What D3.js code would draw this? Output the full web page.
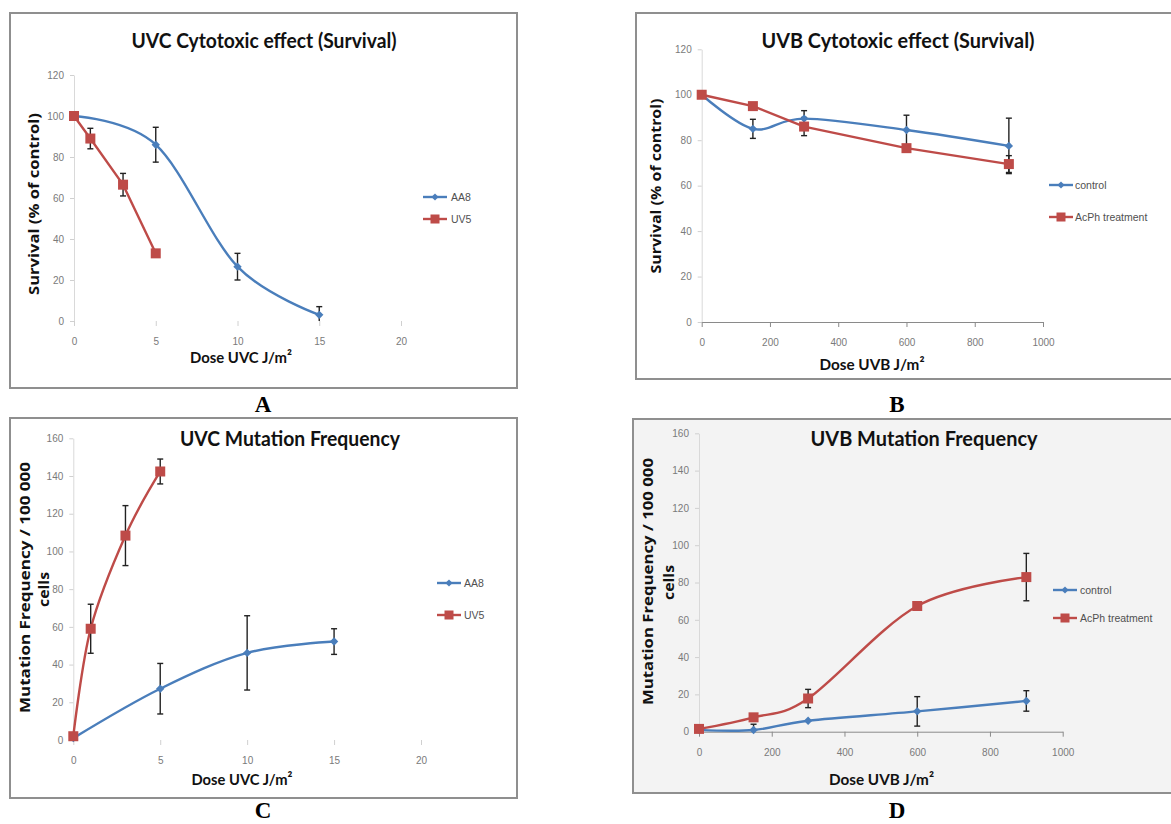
<!DOCTYPE html>
<html><head><meta charset="utf-8">
<script src="https://cdn.jsdelivr.net/npm/d3@7"></script>
<style>body{margin:0;background:#fff}</style>
</head><body><svg id="c" width="1171" height="824"></svg>
<script>
// ---------- DATA ----------
const uvcTicks = [0, 5, 10, 15, 20];
const uvbTicks = [0, 200, 400, 600, 800, 1000];
const survTicks = [0, 20, 40, 60, 80, 100, 120];
const mutTicks = [0, 20, 40, 60, 80, 100, 120, 140, 160];

const uvcDoseAA8 = [0, 5, 10, 15];
const uvcDoseUV5 = [0, 1, 3, 5];
const uvbDose = [0, 150, 300, 600, 900];

// A: UVC survival
const survAA8 = [100, 86, 26.5, 3];
const survAA8Err = [0, 8.5, 6.5, 4];
const survUV5 = [100, 89, 66.5, 33];
const survUV5Err = [0, 5, 5.5, 0];
// B: UVB survival
const survControl = [100, 85, 89.5, 84.5, 77.5];
const survControlErr = [0, 4.2, 3.5, 6.5, 12.2];
const survAcPh = [100, 95, 86, 76.5, 69.5];
const survAcPhErr = [0, 0, 4, 0, 3.7];
// C: UVC mutation frequency
const mutAA8 = [1, 27.2, 46.2, 52.2];
const mutAA8Err = [0, 13.4, 19.7, 6.8];
const mutUV5 = [2, 59, 108.4, 142.4];
const mutUV5Err = [0, 13, 15.9, 6.6];
// D: UVB mutation frequency
const mutControl = [1, 0.9, 5.9, 10.9, 16.5];
const mutControlErr = [0, 3.1, 0, 7.9, 5.5];
const mutAcPh = [1.5, 7.7, 17.8, 67.4, 82.9];
const mutAcPhErr = [0, 0, 4.9, 2.3, 12.7];

const titles = ["UVC Cytotoxic effect (Survival)", "UVB Cytotoxic effect (Survival)", "UVC Mutation Frequency", "UVB Mutation Frequency"];
const letters = ["A", "B", "C", "D"];
const survLabel = "Survival (% of control)";
const mutLabel = ["Mutation Frequency / 100 000", "cells"];
const uvcXLabel = "Dose UVC J/m²";
const uvbXLabel = "Dose UVB J/m²";
const uvcSeries = ["AA8", "UV5"];
const uvbSeries = ["control", "AcPh treatment"];

// ---------- STYLE ----------
const BLUE = "#4a7ebb", RED = "#be4b48";
const svg = d3.select("#c");

function panel(cfg) {
  const g = svg.append("g");
  g.append("rect").attr("x", cfg.box[0]).attr("y", cfg.box[1])
    .attr("width", cfg.box[2] - cfg.box[0]).attr("height", cfg.box[3] - cfg.box[1])
    .attr("fill", cfg.fill || "#fff").attr("stroke", "#8f8f8f").attr("stroke-width", 2);

  const x = d3.scaleLinear().domain(cfg.xDomain).range(cfg.xRange);
  const y = d3.scaleLinear().domain(cfg.yDomain).range(cfg.yRange);

  // y axis
  const yg = g.append("g").attr("transform", `translate(${cfg.xRange[0]},0)`)
    .call(d3.axisLeft(y).tickValues(cfg.yTicks).tickFormat(d3.format("d")).tickSize(4).tickSizeOuter(0).tickPadding(6));
  yg.attr("font-family", "'Liberation Sans', sans-serif").attr("font-size", 10);
  yg.select(".domain").attr("stroke", "#d9d9d9");
  yg.selectAll(".tick line").attr("stroke", "#d0d0d0");
  yg.selectAll(".tick text").attr("fill", "#7a7a7a");

  // x axis
  const xg = g.append("g").attr("transform", `translate(0,${cfg.yRange[0]})`)
    .call(d3.axisBottom(x).tickValues(cfg.xTicks).tickFormat(d3.format("d")).tickSize(5).tickSizeOuter(0).tickPadding(12));
  xg.attr("font-family", "'Liberation Sans', sans-serif").attr("font-size", 10);
  xg.select(".domain").attr("stroke", cfg.xAxisLine ? "#8a8a8a" : "none");
  xg.selectAll(".tick line").attr("stroke", cfg.xAxisLine ? "#8a8a8a" : "#d0d0d0");
  xg.selectAll(".tick text").attr("fill", "#7a7a7a");

  // title
  g.append("text").attr("x", cfg.title.x).attr("y", cfg.title.y)
    .attr("text-anchor", "middle").attr("font-family", "Lato, sans-serif")
    .attr("font-weight", "bold").attr("font-size", 20).attr("fill", "#111")
    .attr("textLength", cfg.title.w).attr("lengthAdjust", "spacingAndGlyphs")
    .text(cfg.title.text);

  // y label(s)
  cfg.yLabels.forEach(l => {
    g.append("text").attr("transform", `translate(${l.x},${l.cy}) rotate(-90)`)
      .attr("text-anchor", "middle").attr("dominant-baseline", "central")
      .attr("font-family", "'Open Sans', sans-serif").attr("font-weight", "bold")
      .attr("font-size", 15).attr("fill", "#111")
      .attr("textLength", l.len).attr("lengthAdjust", "spacingAndGlyphs")
      .text(l.text);
  });

  // x label
  g.append("text").attr("x", cfg.xLabel.x).attr("y", cfg.xLabel.y)
    .attr("text-anchor", "middle").attr("font-family", "Lato, sans-serif")
    .attr("font-weight", "bold").attr("font-size", 16).attr("fill", "#111")
    .attr("textLength", cfg.xLabel.w).attr("lengthAdjust", "spacingAndGlyphs")
    .text(cfg.xLabel.text);

  // series
  const shapes = [];
  cfg.series.forEach(s => {
    const pts = s.xs.map((xv, i) => ({ x: xv, y: s.ys[i], e: s.errs[i] }));
    const line = d3.line().x(d => x(d.x)).y(d => y(d.y)).curve(s.curve);
    g.append("path").attr("d", line(pts)).attr("fill", "none")
      .attr("stroke", s.color).attr("stroke-width", 2.4).attr("stroke-linejoin", "round");
    shapes.push({ s, pts });
  });
  // error bars
  shapes.forEach(({ pts }) => {
    pts.filter(d => d.e > 0).forEach(d => {
      const lo = Math.max(cfg.yDomain[0], d.y - d.e), hi = d.y + d.e;
      const cx = x(d.x);
      g.append("line").attr("x1", cx).attr("x2", cx).attr("y1", y(lo)).attr("y2", y(hi))
        .attr("stroke", "#222").attr("stroke-width", 1.4);
      g.append("line").attr("x1", cx - 3).attr("x2", cx + 3).attr("y1", y(hi)).attr("y2", y(hi))
        .attr("stroke", "#222").attr("stroke-width", 1.4);
      if (d.y - d.e >= cfg.yDomain[0])
        g.append("line").attr("x1", cx - 3).attr("x2", cx + 3).attr("y1", y(lo)).attr("y2", y(lo))
          .attr("stroke", "#222").attr("stroke-width", 1.4);
    });
  });
  // markers
  function marker(sel, kind, color) {
    if (kind === "diamond") sel.append("path").attr("d", "M0,-4.2L4.2,0L0,4.2L-4.2,0Z").attr("fill", color);
    else sel.append("rect").attr("x", -5).attr("y", -5).attr("width", 10).attr("height", 10).attr("fill", color);
  }
  shapes.forEach(({ s, pts }) => {
    pts.forEach(d => {
      const m = g.append("g").attr("transform", `translate(${x(d.x)},${y(d.y)})`);
      marker(m, s.marker, s.color);
    });
  });

  // legend
  cfg.series.forEach((s, i) => {
    const ly = cfg.legend.ys[i];
    g.append("line").attr("x1", cfg.legend.x1).attr("x2", cfg.legend.x2).attr("y1", ly).attr("y2", ly)
      .attr("stroke", s.color).attr("stroke-width", 2.4);
    const m = g.append("g").attr("transform", `translate(${(cfg.legend.x1 + cfg.legend.x2) / 2},${ly}) scale(${s.marker === "diamond" ? 0.85 : 0.9})`);
    marker(m, s.marker, s.color);
    g.append("text").attr("x", cfg.legend.tx).attr("y", ly).attr("dominant-baseline", "central")
      .attr("font-family", "'Liberation Sans', sans-serif").attr("font-size", 10.5).attr("fill", "#505050")
      .text(s.name);
  });

  // panel letter
  g.append("text").attr("x", cfg.letter.x).attr("y", cfg.letter.y).attr("text-anchor", "middle")
    .attr("font-family", "'Liberation Serif', serif").attr("font-weight", "bold").attr("font-size", 23)
    .attr("fill", "#000").text(cfg.letter.text);
}

const smooth = d3.curveCardinal.tension(0);

panel({
  box: [10, 13, 517, 388],
  xDomain: [0, 20], xRange: [74, 401], yDomain: [0, 120], yRange: [321, 75],
  xTicks: uvcTicks, yTicks: survTicks, xAxisLine: false,
  title: { text: titles[0], x: 264, y: 48, w: 265 },
  yLabels: [{ text: survLabel, x: 33, cy: 204, len: 182 }],
  xLabel: { text: uvcXLabel, x: 241, y: 363, w: 102 },
  series: [
    { name: uvcSeries[0], xs: uvcDoseAA8, ys: survAA8, errs: survAA8Err, color: BLUE, marker: "diamond", curve: smooth },
    { name: uvcSeries[1], xs: uvcDoseUV5, ys: survUV5, errs: survUV5Err, color: RED, marker: "square", curve: d3.curveLinear }
  ],
  legend: { x1: 423, x2: 447, ys: [197, 219], tx: 451 },
  letter: { text: letters[0], x: 263, y: 412 }
});

panel({
  box: [636, 13, 1180, 379],
  xDomain: [0, 1000], xRange: [701.7, 1043], yDomain: [0, 120], yRange: [322, 49.3],
  xTicks: uvbTicks, yTicks: survTicks, xAxisLine: true,
  title: { text: titles[1], x: 898, y: 48, w: 273 },
  yLabels: [{ text: survLabel, x: 655, cy: 186, len: 175 }],
  xLabel: { text: uvbXLabel, x: 872, y: 370, w: 105 },
  series: [
    { name: uvbSeries[0], xs: uvbDose, ys: survControl, errs: survControlErr, color: BLUE, marker: "diamond", curve: smooth },
    { name: uvbSeries[1], xs: uvbDose, ys: survAcPh, errs: survAcPhErr, color: RED, marker: "square", curve: d3.curveLinear }
  ],
  legend: { x1: 1049, x2: 1073, ys: [185, 217], tx: 1075 },
  letter: { text: letters[1], x: 897, y: 412 }
});

panel({
  box: [10, 418, 517, 798],
  xDomain: [0, 20], xRange: [73.3, 421], yDomain: [0, 160], yRange: [740, 438.3],
  xTicks: uvcTicks, yTicks: mutTicks, xAxisLine: false,
  title: { text: titles[2], x: 290, y: 446, w: 220 },
  yLabels: [{ text: mutLabel[0], x: 24, cy: 587.5, len: 251 }, { text: mutLabel[1], x: 43, cy: 589.5, len: 35 }],
  xLabel: { text: uvcXLabel, x: 242, y: 785, w: 101 },
  series: [
    { name: uvcSeries[0], xs: uvcDoseAA8, ys: mutAA8, errs: mutAA8Err, color: BLUE, marker: "diamond", curve: smooth },
    { name: uvcSeries[1], xs: uvcDoseUV5, ys: mutUV5, errs: mutUV5Err, color: RED, marker: "square", curve: smooth }
  ],
  legend: { x1: 437, x2: 461, ys: [583, 615], tx: 464 },
  letter: { text: letters[2], x: 263, y: 818 }
});

panel({
  box: [633, 419, 1180, 793], fill: "#f3f3f3",
  xDomain: [0, 1000], xRange: [699, 1062.7], yDomain: [0, 160], yRange: [731.7, 433.3],
  xTicks: uvbTicks, yTicks: mutTicks, xAxisLine: true,
  title: { text: titles[3], x: 924, y: 446, w: 227 },
  yLabels: [{ text: mutLabel[0], x: 647, cy: 581.5, len: 247 }, { text: mutLabel[1], x: 668, cy: 582.5, len: 35 }],
  xLabel: { text: uvbXLabel, x: 881.5, y: 785, w: 105 },
  series: [
    { name: uvbSeries[0], xs: uvbDose, ys: mutControl, errs: mutControlErr, color: BLUE, marker: "diamond", curve: smooth },
    { name: uvbSeries[1], xs: uvbDose, ys: mutAcPh, errs: mutAcPhErr, color: RED, marker: "square", curve: smooth }
  ],
  legend: { x1: 1053, x2: 1077, ys: [590, 618], tx: 1080 },
  letter: { text: letters[3], x: 897, y: 818 }
});
</script>
</body></html>
